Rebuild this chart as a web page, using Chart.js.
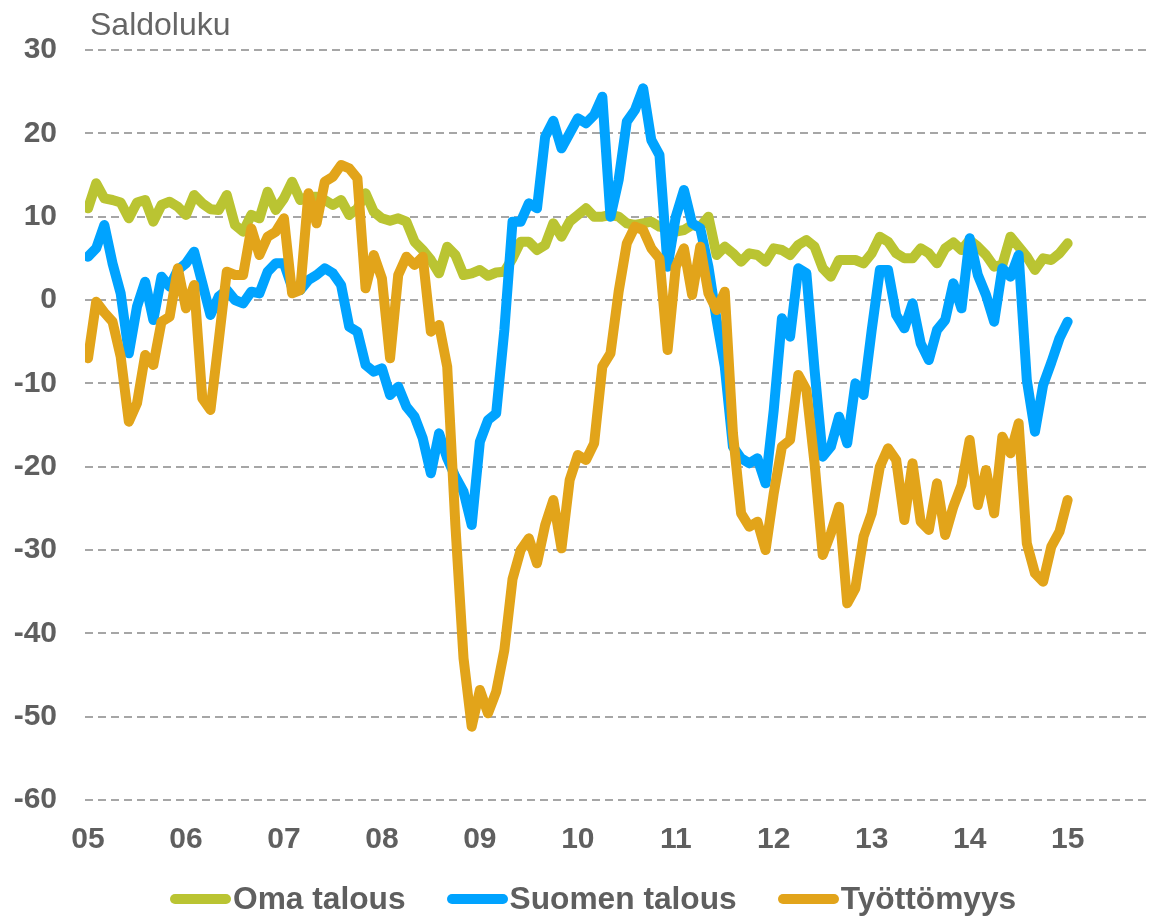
<!DOCTYPE html>
<html>
<head>
<meta charset="utf-8">
<script src="https://cdn.jsdelivr.net/npm/chart.js@4/dist/chart.umd.min.js"></script>
<style>
  html, body { margin: 0; padding: 0; background: #fff; }
  #wrap { width: 1149px; height: 916px; position: relative; }
  #legend {
    position: absolute; left: 170px; top: 883px;
    display: flex; align-items: center; white-space: nowrap;
    font-family: Arial, "Liberation Sans", sans-serif;
    font-weight: bold; font-size: 31.7px; line-height: 1; color: #5f5f5f;
  }
  #legend .item { display: flex; align-items: center; margin-right: 41px; }
  #legend .swatch { width: 61px; height: 10px; border-radius: 5px; margin-right: 2px; }
</style>
</head>
<body>
<div id="wrap">
  <canvas id="saldoChart"></canvas>
  <div id="legend"></div>
</div>
<script>
// monthly balance figures, Jan 2005 .. Jan 2015
const yearLabels = ['05', '06', '07', '08', '09', '10', '11', '12', '13', '14', '15'];

const omaTalous = [
  11, 14, 12.2, 12, 11.7, 9.8, 11.7, 12, 9.4, 11.4, 11.8, 11.2,
  10.2, 12.6, 11.6, 10.9, 10.8, 12.6, 9, 8.2, 10.2, 9.8, 13, 10.8,
  12.2, 14.2, 12, 12.4, 12.4, 12, 11.4, 12, 10.2, 11, 12.8, 10.6,
  9.8, 9.5, 9.8, 9.4, 7, 6, 4.8, 3.2, 6.4, 5.4, 3, 3.2,
  3.6, 2.9, 3.3, 3.4, 5, 7, 7, 6, 6.6, 9.2, 7.6, 9.4,
  10.2, 11, 10, 10, 10.2, 10, 9.2, 9, 9.2, 9.4, 8.8, 8.6,
  8.2, 8.4, 9, 8.8, 10, 5.4, 6.4, 5.6, 4.6, 5.6, 5.4, 4.6,
  6.2, 6, 5.4, 6.6, 7.2, 6.4, 3.8, 2.8, 4.8, 4.8, 4.8, 4.4,
  5.6, 7.6, 7, 5.6, 5, 5, 6.2, 5.6, 4.4, 6.2, 6.9, 6,
  7.2, 6.4, 5.4, 4, 4.2, 7.6, 6.4, 5.2, 3.6, 5, 4.8, 5.6,
  6.8
];

const suomenTalous = [
  5.2, 6.2, 9, 4.4, 0.8, -6.4, -0.8, 2.2, -2.4, 2.8, 1.6, 3.6,
  4.4, 5.8, 2, -1.8, 0.4, 1.2, 0, -0.4, 1, 0.8, 3.4, 4.4,
  4.4, 1.5, 1.2, 2.4, 3, 3.8, 3.2, 1.8, -3.2, -3.8, -7.8, -8.6,
  -8.2, -11.4, -10.4, -12.8, -14, -16.6, -20.8, -16, -19, -21.2, -23, -27,
  -17, -14.4, -13.6, -3.6, 9.4, 9.4, 11.6, 11, 19.6, 21.5, 18.2, 20,
  21.8, 21.2, 22.2, 24.4, 10, 14.4, 21.4, 22.8, 25.4, 19.2, 17.4, 4,
  10, 13.2, 9.2, 8.6, 4, -2.4, -8, -17.6, -19, -19.6, -19, -22,
  -13.2, -2.2, -4.4, 3.8, 3.2, -8.4, -18.8, -17.6, -14, -17.2, -10, -11.4,
  -3.6, 3.6, 3.6, -1.8, -3.4, -0.4, -5.2, -7.2, -3.6, -2.4, 2, -1,
  7.4, 3, 0.6, -2.6, 3.8, 2.8, 5.4, -9.6, -15.8, -10.2, -7.5, -4.6,
  -2.6
];

const tyottomyys = [
  -7, -0.2, -1.5, -2.6, -6.8, -14.6, -12.4, -6.6, -7.8, -2.6, -2, 3.8,
  -1, 1.8, -11.8, -13.2, -5, 3.4, 3, 3, 8.6, 5.4, 7.6, 8.2,
  9.8, 0.8, 1.2, 12.8, 9.2, 14.2, 14.8, 16.2, 15.8, 14.6, 1.4, 5.4,
  2.6, -7, 3, 5.2, 4.2, 5.2, -3.8, -3, -8, -27, -43, -51.2,
  -46.8, -49.6, -47, -42, -33.5, -30, -28.6, -31.6, -27, -24, -29.8, -21.6,
  -18.6, -19.2, -17.2, -8, -6.4, 1, 6.8, 8.8, 8.4, 6.2, 5, -6,
  4, 6.2, 0.6, 6.4, 0.8, -1.2, 1, -16, -25.6, -27.2, -26.6, -30,
  -23.2, -17.6, -16.8, -9, -10.8, -19.6, -30.6, -28, -24.8, -36.4, -34.6, -28.4,
  -25.6, -20, -17.8, -19.2, -26.4, -19.6, -26.6, -27.6, -22, -28.2, -24.8, -22.2,
  -16.8, -24.6, -20.4, -25.6, -16.4, -18.4, -14.8, -29.2, -32.8, -33.8, -29.6, -27.8,
  -24
];

const textColor = '#5f5f5f';
const fontFamily = 'Arial, "Liberation Sans", sans-serif';

const toPoints = (values) => values.map((v, i) => ({ x: i, y: v }));

const makeSeries = (label, values, color, order) => ({
  label: label,
  data: toPoints(values),
  borderColor: color,
  backgroundColor: color,
  borderWidth: 10,
  borderCapStyle: 'round',
  borderJoinStyle: 'round',
  pointRadius: 0,
  tension: 0,
  order: order
});

// "Saldoluku" caption above the y axis
const axisCaption = {
  id: 'axisCaption',
  afterDraw(chart) {
    const { ctx, chartArea } = chart;
    ctx.save();
    ctx.font = '32px ' + fontFamily;
    ctx.fillStyle = '#666666';
    ctx.textBaseline = 'alphabetic';
    ctx.fillText('Saldoluku', chartArea.left + 5, chartArea.top - 15);
    ctx.restore();
  }
};

const buildLegend = (chart) => {
  const box = document.getElementById('legend');
  chart.data.datasets.forEach((ds) => {
    const item = document.createElement('div');
    item.className = 'item';
    const swatch = document.createElement('span');
    swatch.className = 'swatch';
    swatch.style.background = ds.borderColor;
    const text = document.createElement('span');
    text.textContent = ds.label;
    item.appendChild(swatch);
    item.appendChild(text);
    box.appendChild(item);
  });
};

document.addEventListener('DOMContentLoaded', () => {
  const ctx = document.getElementById('saldoChart').getContext('2d');
  const chart = new Chart(ctx, {
    type: 'line',
    data: {
      datasets: [
        makeSeries('Oma talous', omaTalous, '#BAC432', 3),
        makeSeries('Suomen talous', suomenTalous, '#00A3FF', 2),
        makeSeries('Työttömyys', tyottomyys, '#E2A41A', 1)
      ]
    },
    options: {
      responsive: true,
      maintainAspectRatio: false,
      animation: false,
      layout: {
        padding: { top: 50, left: 0, right: 3, bottom: 36 }
      },
      scales: {
        x: {
          type: 'linear',
          min: -0.37,
          max: 129.6,
          afterBuildTicks: (scale) => {
            scale.ticks = yearLabels.map((_, i) => ({ value: i * 12 }));
          },
          grid: { display: false, drawTicks: false },
          border: { display: false },
          ticks: {
            autoSkip: false,
            maxRotation: 0,
            padding: 22,
            color: textColor,
            font: { family: fontFamily, size: 30, weight: 'bold' },
            callback: (value) => yearLabels[value / 12] ?? ''
          }
        },
        y: {
          min: -60,
          max: 30,
          afterFit: (scale) => { scale.width = 85; },
          grid: { color: '#A6A6A6', lineWidth: 2, drawTicks: false },
          border: { display: false, dash: [8, 5] },
          ticks: {
            stepSize: 10,
            padding: 28,
            color: textColor,
            font: { family: fontFamily, size: 30, weight: 'bold' }
          }
        }
      },
      plugins: {
        legend: { display: false },
        tooltip: { enabled: false }
      }
    },
    plugins: [axisCaption]
  });
  buildLegend(chart);
});
</script>
</body>
</html>
